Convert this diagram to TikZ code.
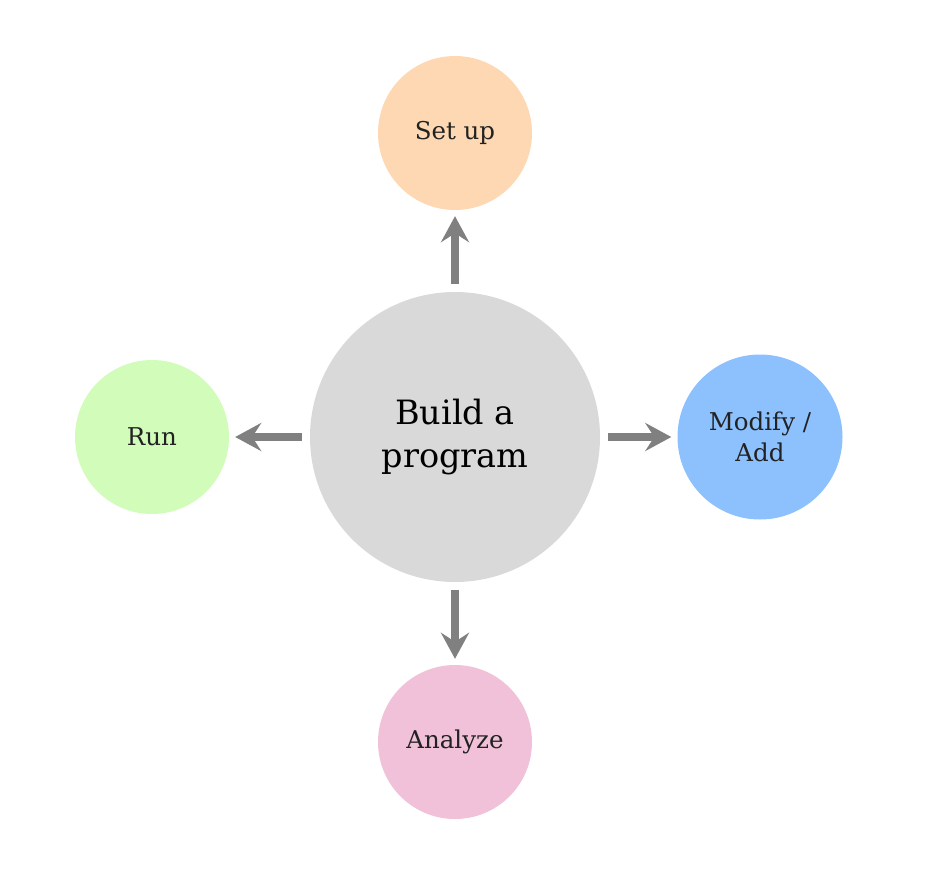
\documentclass[tikz,border=0pt]{standalone}
\usepackage{fontspec}
\setmainfont{DejaVu Serif}
\usetikzlibrary{arrows.meta}
\definecolor{cgray}{HTML}{D9D9D9}
\definecolor{cpeach}{HTML}{FDD8B2}
\definecolor{cgreen}{HTML}{D1FCB9}
\definecolor{cblue}{HTML}{8DC1FE}
\definecolor{cpink}{HTML}{F0C1D8}
\definecolor{carrow}{HTML}{808080}
\definecolor{ctext}{HTML}{222222}
\tikzset{
  bubble/.style={circle, inner sep=0pt, draw=none, align=center, text=ctext,
    font=\fontsize{24.5}{31}\selectfont},
  flow/.style={draw=carrow, line width=8.5pt,
    -{Stealth[length=26pt,width=28pt,inset=9pt]},
    shorten <=8pt, shorten >=6pt}
}
\begin{document}
\begin{tikzpicture}[x=1pt,y=-1pt]
\useasboundingbox (0,0) rectangle (942,896);
\node[bubble, fill=cgray, minimum size=290pt, text=black,
  font=\fontsize{33.5}{43}\selectfont] (c) at (455,437) {Build a\\program};
\node[bubble, fill=cpeach, minimum size=154pt] (s) at (455,133) {Set up};
\node[bubble, fill=cgreen, minimum size=154pt] (r) at (152,437) {Run};
\node[bubble, fill=cblue, minimum size=165pt] (m) at (760,437) {Modify /\\Add};
\node[bubble, fill=cpink, minimum size=154pt] (a) at (455,742) {Analyze};
\draw[flow] (c) -- (s);
\draw[flow] (c) -- (r);
\draw[flow] (c) -- (m);
\draw[flow] (c) -- (a);
\end{tikzpicture}
\end{document}
